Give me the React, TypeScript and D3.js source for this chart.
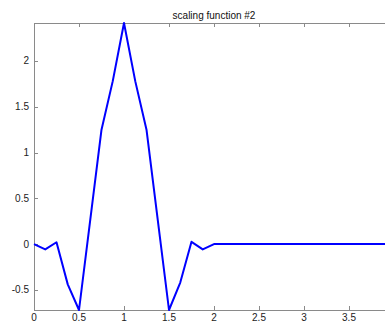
import React from "react";
import * as d3 from "d3";

const xValues = [0, 0.125, 0.25, 0.375, 0.5, 0.625, 0.75, 0.875, 1, 1.125, 1.25, 1.375, 1.5, 1.625, 1.75, 1.875, 2, 2.5, 3, 3.5, 4];
const yValues = [0, -0.058, 0.02, -0.44, -0.72, 0.265, 1.25, 1.78, 2.415, 1.78, 1.25, 0.265, -0.72, -0.42, 0.025, -0.058, 0, 0, 0, 0, 0];
const xTicks = [0, 0.5, 1, 1.5, 2, 2.5, 3, 3.5];
const yTicks = [-0.5, 0, 0.5, 1, 1.5, 2];
const title = "scaling function #2";

const W = 385;
const H = 322;
const margin = { left: 34, right: 394, top: 23, bottom: 310 };

export default function App() {
  const data = xValues.map((x, i) => ({ x, y: yValues[i] }));
  const ext = d3.extent(yValues) as [number, number];
  const x = d3.scaleLinear().domain([0, 4]).range([margin.left, margin.right]);
  const y = d3.scaleLinear().domain(ext).range([margin.bottom, margin.top]);
  const line = d3
    .line<{ x: number; y: number }>()
    .x((d) => x(d.x))
    .y((d) => y(d.y));
  const axisColor = "#8a8a8a";
  const font = "Liberation Sans, Arial, sans-serif";
  const tl = 4;
  return (
    <svg
      width={W}
      height={H}
      style={{ position: "absolute", left: 0, top: 0, background: "#fff" }}
      fontFamily={font}
    >
      <rect x={0} y={0} width={W} height={H} fill="#fff" />
      <text x={(margin.left + margin.right) / 2} y={19} fontSize={10} textAnchor="middle" fill="#111">
        {title}
      </text>
      <line x1={margin.left} x2={margin.right} y1={margin.top + 0.5} y2={margin.top + 0.5} stroke={axisColor} />
      <line x1={margin.left} x2={margin.right} y1={margin.bottom + 0.5} y2={margin.bottom + 0.5} stroke={axisColor} />
      <line x1={margin.left + 0.5} x2={margin.left + 0.5} y1={margin.top} y2={margin.bottom + 1} stroke={axisColor} />
      <line x1={margin.right + 0.5} x2={margin.right + 0.5} y1={margin.top} y2={margin.bottom + 1} stroke={axisColor} />
      {xTicks.map((t) => {
        const px = Math.round(x(t)) + 0.5;
        return (
          <g key={"x" + t}>
            <line x1={px} x2={px} y1={margin.bottom} y2={margin.bottom - tl} stroke={axisColor} />
            <line x1={px} x2={px} y1={margin.top} y2={margin.top + tl} stroke={axisColor} />
            <text x={x(t)} y={321} fontSize={10} textAnchor="middle" fill="#222">
              {t}
            </text>
          </g>
        );
      })}
      {yTicks.map((t) => {
        const py = Math.round(y(t)) + 0.5;
        return (
          <g key={"y" + t}>
            <line x1={margin.left} x2={margin.left + tl} y1={py} y2={py} stroke={axisColor} />
            <line x1={margin.right} x2={margin.right - tl} y1={py} y2={py} stroke={axisColor} />
            <text x={29} y={y(t) + 3.5} fontSize={10} textAnchor="end" fill="#222">
              {t}
            </text>
          </g>
        );
      })}
      <path d={line(data) ?? ""} fill="none" stroke="#0000ff" strokeWidth={2} strokeLinejoin="round" />
    </svg>
  );
}
